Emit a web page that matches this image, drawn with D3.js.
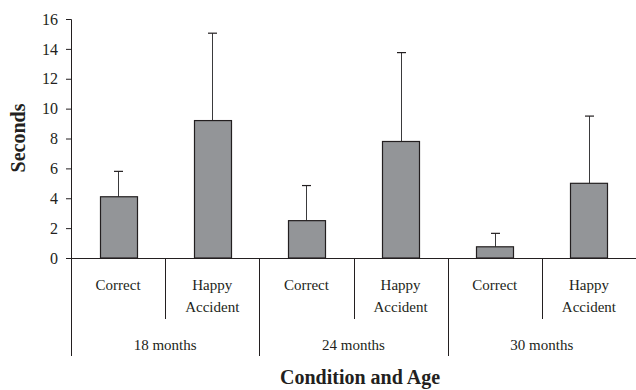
<!DOCTYPE html>
<html>
<head>
<meta charset="utf-8">
<script src="https://cdn.jsdelivr.net/npm/d3@7"></script>
<style>
  html, body { margin: 0; padding: 0; background: #fff; }
  svg { display: block; font-family: "Liberation Serif", "Times New Roman", serif; }
</style>
</head>
<body>
<svg id="chart" width="636" height="390"></svg>
<script>
// Mean looking time (seconds) by condition within each age group
const ageGroups = ["18 months", "24 months", "30 months"];
const conditions = ["Correct", "Happy Accident"];
const means = [4.1, 9.2, 2.5, 7.8, 0.75, 5.0];
const errorTops = [5.8, 15.05, 4.85, 13.75, 1.65, 9.5];
const yTicks = [0, 2, 4, 6, 8, 10, 12, 14, 16];

const bars = [];
ageGroups.forEach((age, gi) => {
  conditions.forEach((cond, ci) => {
    const i = gi * conditions.length + ci;
    bars.push({ key: age + "|" + cond, age, cond, mean: means[i], top: errorTops[i] });
  });
});

const svg = d3.select("#chart");
const margin = { left: 71, right: 0, top: 19, bottom: 132 };
const W = 636, H = 390;
const plotBottom = H - margin.bottom; // y of the zero line

const x = d3.scaleBand()
  .domain(bars.map(d => d.key))
  .range([margin.left, W - margin.right])
  .paddingInner(0)
  .paddingOuter(0);

const y = d3.scaleLinear()
  .domain([0, 16])
  .range([plotBottom, margin.top]);

const ink = "#231f20";
const barWidth = 37;

// Y axis
const yAxis = d3.axisLeft(y).tickValues(yTicks).tickSize(5).tickPadding(8);
const gy = svg.append("g")
  .attr("transform", `translate(${margin.left},0)`)
  .call(yAxis);
gy.attr("font-family", null).attr("font-size", null);
gy.select(".domain").attr("stroke", ink).attr("stroke-width", 1);
gy.selectAll(".tick line").attr("stroke", ink);
gy.selectAll(".tick text")
  .attr("fill", ink)
  .style("font-size", "16px");

// Error bars (upper whisker only)
const errG = svg.append("g");
bars.forEach(d => {
  const cx = Math.round(x(d.key) + x.bandwidth() / 2) + 0.5;
  errG.append("line")
    .attr("x1", cx).attr("x2", cx)
    .attr("y1", y(d.mean)).attr("y2", y(d.top))
    .attr("stroke", "#3a3a3c").attr("stroke-width", 1);
  errG.append("line")
    .attr("x1", cx - 4.5).attr("x2", cx + 4.5)
    .attr("y1", y(d.top)).attr("y2", y(d.top))
    .attr("stroke", ink).attr("stroke-width", 1.2);
});

// Bars
svg.append("g").selectAll("rect")
  .data(bars)
  .join("rect")
  .attr("x", d => Math.round(x(d.key) + (x.bandwidth() - barWidth) / 2) + 0.5)
  .attr("y", d => y(d.mean))
  .attr("width", barWidth)
  .attr("height", d => plotBottom - y(d.mean))
  .attr("fill", "#939598")
  .attr("stroke", ink)
  .attr("stroke-width", 1.2);

// Category axis line
svg.append("line")
  .attr("x1", margin.left).attr("x2", W)
  .attr("y1", plotBottom + 0.5).attr("y2", plotBottom + 0.5)
  .attr("stroke", ink).attr("stroke-width", 1);

// Dividers between conditions (short) and between age groups (long)
const divG = svg.append("g").attr("stroke", ink).attr("stroke-width", 1);
bars.forEach((d, i) => {
  const xl = Math.round(x(d.key)) + 0.5;
  const isGroupStart = i % conditions.length === 0;
  divG.append("line")
    .attr("x1", xl).attr("x2", xl)
    .attr("y1", plotBottom)
    .attr("y2", isGroupStart ? 356 : 319);
});

// Condition labels
const labG = svg.append("g")
  .attr("fill", ink)
  .style("font-size", "15px")
  .attr("text-anchor", "middle");
bars.forEach(d => {
  const cx = x(d.key) + x.bandwidth() / 2;
  const words = d.cond === "Happy Accident" ? ["Happy", "Accident"] : [d.cond];
  words.forEach((w, k) => {
    labG.append("text")
      .attr("x", cx)
      .attr("y", 290 + k * 22)
      .text(w);
  });
});

// Age group labels
ageGroups.forEach(age => {
  const keys = conditions.map(c => age + "|" + c);
  const x0 = x(keys[0]);
  const x1 = x(keys[keys.length - 1]) + x.bandwidth();
  labG.append("text")
    .attr("x", (x0 + x1) / 2)
    .attr("y", 350)
    .text(age);
});

// Axis titles
svg.append("text")
  .attr("x", 360)
  .attr("y", 384)
  .attr("text-anchor", "middle")
  .attr("fill", ink)
  .style("font-size", "20px")
  .style("font-weight", "bold")
  .text("Condition and Age");

svg.append("text")
  .attr("transform", `translate(25,138) rotate(-90)`)
  .attr("text-anchor", "middle")
  .attr("fill", ink)
  .style("font-size", "20px")
  .style("font-weight", "bold")
  .text("Seconds");
</script>
</body>
</html>
